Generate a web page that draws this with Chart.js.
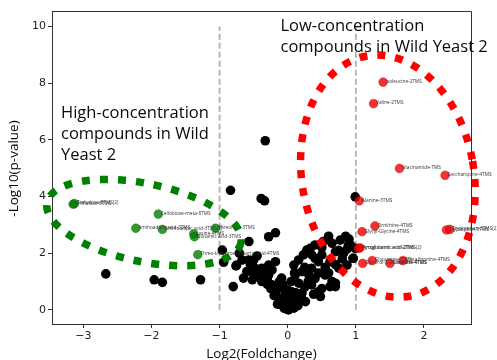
<!DOCTYPE html>
<html><head><meta charset="utf-8">
<script src="https://cdn.jsdelivr.net/npm/chart.js@4"></script>
<style>html,body{margin:0;padding:0;background:#fff}#wrap{width:497px;height:360px;position:relative}</style>
</head><body><div id="wrap"><canvas id="c" width="497" height="360"></canvas></div>
<script>
// ---- tick labels ----
const xTicks = [-3, -2, -1, 0, 1, 2];
const yTicks = [0, 2, 4, 6, 8, 10];
// ---- fold-change thresholds ----
const thresholdX = [-1, 1];
const thresholdY = [0, 10];
// ---- non-significant compounds ----
const blackX = [-2.67,-1.96,-1.84,-1.28,-0.84,-0.96,-0.94,-0.76,-0.71,-0.57,-0.57,-0.65,-0.80,-0.33,-0.39,-0.34,0.99,-0.18,-0.28,-0.67,-0.75,
 -0.50,-0.38,-0.28,-0.18,0.16,0.28,0.40,0.52,0.65,0.77,0.89,0.96,0.87,0.75,0.62,0.50,0.40,0.35,0.55,0.65,0.70,0.45,0.48,0.31,0.21,0.16,0.21,0.11,0.01,
 -0.09,-0.13,-0.18,-0.23,-0.30,-0.38,-0.43,-0.48,-0.28,-0.23,-0.04,0.06,0.09,-0.04,0.04,0.11,0.09,0.35,0.26,0.33,0.99,0.70,0.82,0.92,0.23,-0.09,-0.13,
 -0.05,0.05,-0.10,0.00,0.10,-0.20,-0.15,0.15,0.20,-0.25,-0.30,0.25,0.30,0.40,0.45,-0.35,-0.40,0.00,-0.07,0.05,0.12,-0.12,0.38,0.50,0.55,0.60,0.70,0.80,
 0.75,0.85,0.90,0.60,0.50,0.45,0.35,0.25,0.10,-0.45,-0.55,-0.60,-0.50,-0.45,-0.52,0.62,0.70,0.87,0.96];
const blackY = [1.27,1.06,0.97,1.06,4.22,2.11,1.68,1.55,2.00,2.41,1.76,1.12,0.82,5.97,3.93,3.85,3.99,2.72,2.58,1.76,1.58,
 1.29,1.47,1.58,1.70,1.76,2.11,2.29,2.41,2.35,2.46,2.29,1.82,1.58,1.47,1.70,1.94,1.82,1.47,1.23,1.00,0.82,0.64,0.47,1.23,1.35,0.94,0.59,0.29,0.00,
 0.18,0.41,0.64,0.88,1.06,1.00,1.23,1.47,1.23,1.41,0.53,0.64,0.06,0.12,0.29,1.23,1.58,0.88,0.29,2.17,2.17,2.05,2.00,2.29,1.94,1.12,0.76,
 0.05,0.10,0.30,0.35,0.45,0.50,0.20,0.15,0.40,0.75,0.90,0.80,1.00,1.10,1.30,1.30,1.15,0.70,0.90,1.00,0.60,1.00,0.55,0.75,1.50,1.30,1.60,1.80,
 2.10,2.60,2.50,2.60,2.20,1.70,1.95,1.50,1.30,1.90,1.60,1.35,1.76,1.41,1.06,0.82,0.94,2.14,1.82];
// ---- high-concentration compounds (green) ----
const greenX = [-3.15,-3.13,-1.90,-2.23,-1.84,-1.38,-1.37,-1.06,-1.32];
const greenY = [3.73,3.75,3.38,2.88,2.84,2.68,2.58,2.88,1.95];
const greenLabels = ["Trehalose-8TMS","Trehalose-8TMS(2)","Cellobiose-meta-8TMS","Aminoadipic acid-3TMS","Aminoadipic acid-3TMS(2)","Lysine-4TMS","Glutamic acid-3TMS","Threonine-3TMS","Threo-b-hydroxyaspartic acid-4TMS"];
// ---- low-concentration compounds (red) ----
const redX = [1.40,1.26,1.64,2.31,1.05,1.28,1.09,2.33,2.38,1.04,1.06,1.10,1.24,1.50,1.69];
const redY = [8.04,7.28,4.99,4.75,3.85,2.96,2.76,2.82,2.84,2.17,2.19,1.64,1.74,1.64,1.74];
const redLabels = ["Isoleucine-2TMS","Valine-2TMS","Niacinamide-TMS","Saccharopine-4TMS","Alanine-3TMS","Ornithine-4TMS","Glycyl-Glycine-4TMS","Tryptophan-3TMS","Tryptophan-3TMS(2)","Pyroglutamic acid-2TMS","Pyroglutamic acid-2TMS(2)","Glycerol-3-phosphate-4TMS","Glutamine-3TMS","Citrulline-4TMS","Cystathionine-4TMS"];

const pts = (xs, ys) => xs.map((x, i) => ({x, y: ys[i]}));

// annotation shapes (center in data units, radii in px)
const ellipses = [
  {cx: -2.11, cy: 3.08, rx: 99, ry: 39, rot: 11.7, color: '#008000'},
  {cx: 1.47, cy: 4.72, rx: 86, ry: 122, rot: -10, color: '#ff0000'}
];
const notes = [
  {lines: ["High-concentration","compounds in Wild","Yeast 2"], x: 61, y: 118},
  {lines: ["Low-concentration","compounds in Wild Yeast 2"], x: 280.5, y: 30.5}
];

const overlay = {
  id: 'overlay',
  afterDatasetsDraw(chart) {
    const ctx = chart.ctx, xs = chart.scales.x, ys = chart.scales.y;
    ctx.save();
    // point labels
    ctx.font = '4.8px "Open Sans"';
    ctx.fillStyle = '#333';
    ctx.textBaseline = 'middle';
    const lab = (X, Y, L) => X.forEach((v, i) => ctx.fillText(L[i], xs.getPixelForValue(v) + 2.5, ys.getPixelForValue(Y[i]) - 0.5));
    lab(greenX, greenY, greenLabels);
    lab(redX, redY, redLabels);
    // ellipses
    ctx.lineWidth = 7.5;
    ctx.setLineDash([8, 10]);
    ellipses.forEach(e => {
      ctx.strokeStyle = e.color;
      ctx.beginPath();
      ctx.ellipse(xs.getPixelForValue(e.cx), ys.getPixelForValue(e.cy), e.rx, e.ry, e.rot * Math.PI / 180, 0, Math.PI * 2);
      ctx.stroke();
    });
    ctx.setLineDash([]);
    // frame top/right
    const a = chart.chartArea;
    ctx.strokeStyle = '#333'; ctx.lineWidth = 1;
    ctx.beginPath();
    ctx.moveTo(a.left, a.top + 0.5); ctx.lineTo(a.right + 0.5, a.top + 0.5); ctx.lineTo(a.right + 0.5, a.bottom);
    ctx.stroke();
    // annotation notes
    ctx.fillStyle = '#0a0a0a';
    ctx.textBaseline = 'alphabetic';
    ctx.font = '16.5px "Open Sans"';
    notes.forEach(n => n.lines.forEach((t, i) => ctx.fillText(t, n.x, n.y + i * 21)));
    // axis titles
    ctx.font = '13.5px "Open Sans"';
    ctx.textAlign = 'center';
    ctx.fillText('Log2(Foldchange)', (a.left + a.right) / 2, 358);
    ctx.save();
    ctx.translate(18, (a.top + a.bottom) / 2 + 1);
    ctx.rotate(-Math.PI / 2);
    ctx.fillText('-Log10(p-value)', 0, 0);
    ctx.restore();
    ctx.restore();
  }
};

const tickFont = {family: '"DejaVu Sans"', size: 11};
new Chart(document.getElementById('c'), {
  type: 'scatter',
  data: {
    datasets: [
      {data: pts(redX, redY), backgroundColor: 'rgba(240,0,0,0.8)', borderColor: 'rgba(200,0,0,0.8)', borderWidth: 0.5, pointRadius: 4.4, order: 0},
      {data: pts(greenX, greenY), backgroundColor: 'rgba(0,128,0,0.8)', borderColor: 'rgba(0,100,0,0.8)', borderWidth: 0.5, pointRadius: 4.4, order: 1},
      {data: pts(blackX, blackY), backgroundColor: '#000', borderColor: '#000', borderWidth: 0, pointRadius: 4.8, order: 2},
      {type: 'line', data: [{x: thresholdX[0], y: thresholdY[0]}, {x: thresholdX[0], y: thresholdY[1]}], borderColor: '#b0b0b0', borderWidth: 1.8, borderDash: [6, 3], pointRadius: 0, order: 3},
      {type: 'line', data: [{x: thresholdX[1], y: thresholdY[0]}, {x: thresholdX[1], y: thresholdY[1]}], borderColor: '#b0b0b0', borderWidth: 1.8, borderDash: [6, 3], pointRadius: 0, order: 3}
    ]
  },
  options: {
    responsive: false, animation: false, devicePixelRatio: 1,
    layout: {padding: {top: 11, right: 26, left: 0, bottom: 0}},
    plugins: {legend: {display: false}, tooltip: {enabled: false}},
    scales: {
      x: {
        type: 'linear', min: -3.46, max: 2.69,
        afterBuildTicks: s => { s.ticks = xTicks.map(v => ({value: v})); },
        afterFit: s => { s.height = 36; },
        ticks: {font: tickFont, color: '#222', padding: 2, callback: v => (v < 0 ? '\u2212' + Math.abs(v) : '' + v), maxRotation: 0},
        grid: {drawOnChartArea: false, drawTicks: true, tickLength: 4, color: '#333'},
        border: {display: true, color: '#333', width: 1}
      },
      y: {
        min: -0.5, max: 10.55,
        afterBuildTicks: s => { s.ticks = yTicks.map(v => ({value: v})); },
        afterFit: s => { s.width = 52; },
        ticks: {font: tickFont, color: '#222', padding: 2},
        grid: {drawOnChartArea: false, drawTicks: true, tickLength: 4, color: '#333'},
        border: {display: true, color: '#333', width: 1}
      }
    }
  },
  plugins: [overlay]
});
</script>
</body></html>
